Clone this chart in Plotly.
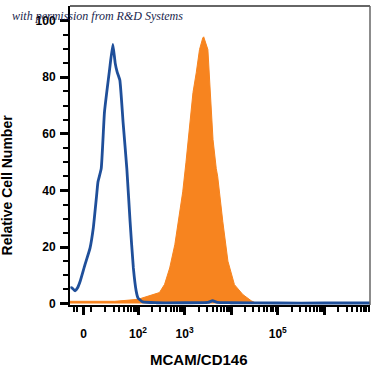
import plotly.graph_objects as go
import numpy as np

# Display (logicle-like) units: 2 -> 10^2, 3 -> 10^3 ...
blue_u = [0.55, 0.58, 0.65, 0.70, 0.76, 0.86, 0.97, 1.04, 1.11, 1.14, 1.21, 1.28, 1.39, 1.46,
          1.51, 1.55, 1.61, 1.68, 1.76, 1.83, 1.90, 1.96, 2.00, 2.10, 2.40, 3.00, 3.50, 3.60,
          3.70, 4.00, 5.00, 6.00, 6.98]
blue_y = [5.5, 5.6, 4.5, 5.5, 8.0, 13.7, 19.6, 26.7, 38.0, 43.0, 47.7, 67.7, 82.8, 91.6,
          85.0, 82.0, 79.0, 64.0, 47.7, 29.0, 12.6, 4.5, 2.0, 0.6, 0.3, 0.3, 0.4, 1.0,
          0.4, 0.3, 0.2, 0.2, 0.2]

orange_u = [0.54, 1.00, 1.50, 2.00, 2.20, 2.46, 2.57, 2.68, 2.79, 2.89, 2.96, 3.03, 3.11, 3.18,
            3.25, 3.32, 3.39, 3.41, 3.50, 3.56, 3.61, 3.68, 3.71, 3.82, 3.93, 4.07, 4.25,
            4.43, 4.55]
orange_y = [0.8, 0.8, 0.8, 1.5, 2.5, 3.9, 6.8, 12.6, 20.8, 31.3, 39.5, 50.0, 64.0, 74.6,
            81.6, 89.8, 93.9, 94.3, 89.8, 73.0, 58.0, 47.7, 45.0, 29.0, 15.0, 6.7, 3.2,
            1.0, 0.0]

x_tickvals = [0.83, 2, 3, 4, 5, 6]
x_ticktext = ["0", "10<sup>2</sup>", "10<sup>3</sup>", "", "10<sup>5</sup>", ""]
x_minor = [0.62, 0.70, 1.0] + [d + np.log10(k) for d in range(1, 7) for k in range(2, 10)]
x_minor = [v for v in x_minor if v < 6.98]

y_tickvals = [0, 20, 40, 60, 80, 100]

fig = go.Figure()
fig.add_trace(go.Scatter(x=orange_u, y=orange_y, mode="lines", fill="tozeroy",
                         fillcolor="#f7841f", line=dict(color="#f7841f", width=1),
                         showlegend=False, hoverinfo="skip"))
fig.add_trace(go.Scatter(x=blue_u, y=blue_y, mode="lines",
                         line=dict(color="#1f4f9a", width=2.8, shape="spline", smoothing=0.4),
                         showlegend=False, hoverinfo="skip"))

fig.update_layout(
    width=375, height=375,
    margin=dict(l=70, r=5, t=6, b=70),
    paper_bgcolor="white", plot_bgcolor="white",
    font=dict(family="Liberation Sans, Arial", color="black"),
    xaxis=dict(range=[0.54, 6.98], showgrid=False, zeroline=False,
               showline=True, linecolor="black", linewidth=2, layer="below traces",
               tickmode="array", tickvals=x_tickvals, ticktext=x_ticktext,
               ticks="outside", ticklen=8, tickwidth=3, tickcolor="black",
               ticklabelstandoff=9,
               tickfont=dict(size=12, family="Liberation Sans, Arial", weight="bold"),
               minor=dict(tickmode="array", tickvals=x_minor, ticks="outside",
                          ticklen=5, tickwidth=1.5, tickcolor="black")),
    yaxis=dict(range=[-0.5, 105.2], showgrid=False, zeroline=False,
               showline=True, linecolor="black", linewidth=2, layer="below traces",
               tickmode="array", tickvals=y_tickvals,
               ticks="outside", ticklen=8, tickwidth=3, tickcolor="black",
               ticklabelstandoff=2,
               tickfont=dict(size=12, family="Liberation Sans, Arial", weight="bold"),
               minor=dict(tickmode="array", tickvals=list(range(5, 101, 5)),
                          ticks="outside", ticklen=5, tickwidth=1.5, tickcolor="black")),
    shapes=[
        dict(type="line", xref="paper", yref="paper", x0=0, x1=1, y0=1, y1=1,
             line=dict(color="#666666", width=2)),
        dict(type="line", xref="paper", yref="paper", x0=1, x1=1, y0=0, y1=1,
             line=dict(color="#666666", width=1.5)),
    ],
    annotations=[
        dict(text="<i>with permission from R&amp;D Systems</i>", xref="paper", yref="paper",
             x=-0.2, y=0.965, xanchor="left", yanchor="middle", showarrow=False,
             font=dict(family="Liberation Serif", size=12, color="#1a1f4e")),
        dict(text="<b>MCAM/CD146</b>", xref="paper", yref="paper", x=0.43, y=-0.183,
             xanchor="center", yanchor="middle", showarrow=False,
             font=dict(size=15, color="black")),
        dict(text="<b>Relative Cell Number</b>", xref="paper", yref="paper", x=-0.21, y=0.4,
             xanchor="center", yanchor="middle", showarrow=False, textangle=-90,
             font=dict(size=14, color="black")),
    ],
)

fig.write_html("out.html", config={"displayModeBar": False},
               post_script="document.body.style.margin='0';document.body.style.overflow='hidden';")
